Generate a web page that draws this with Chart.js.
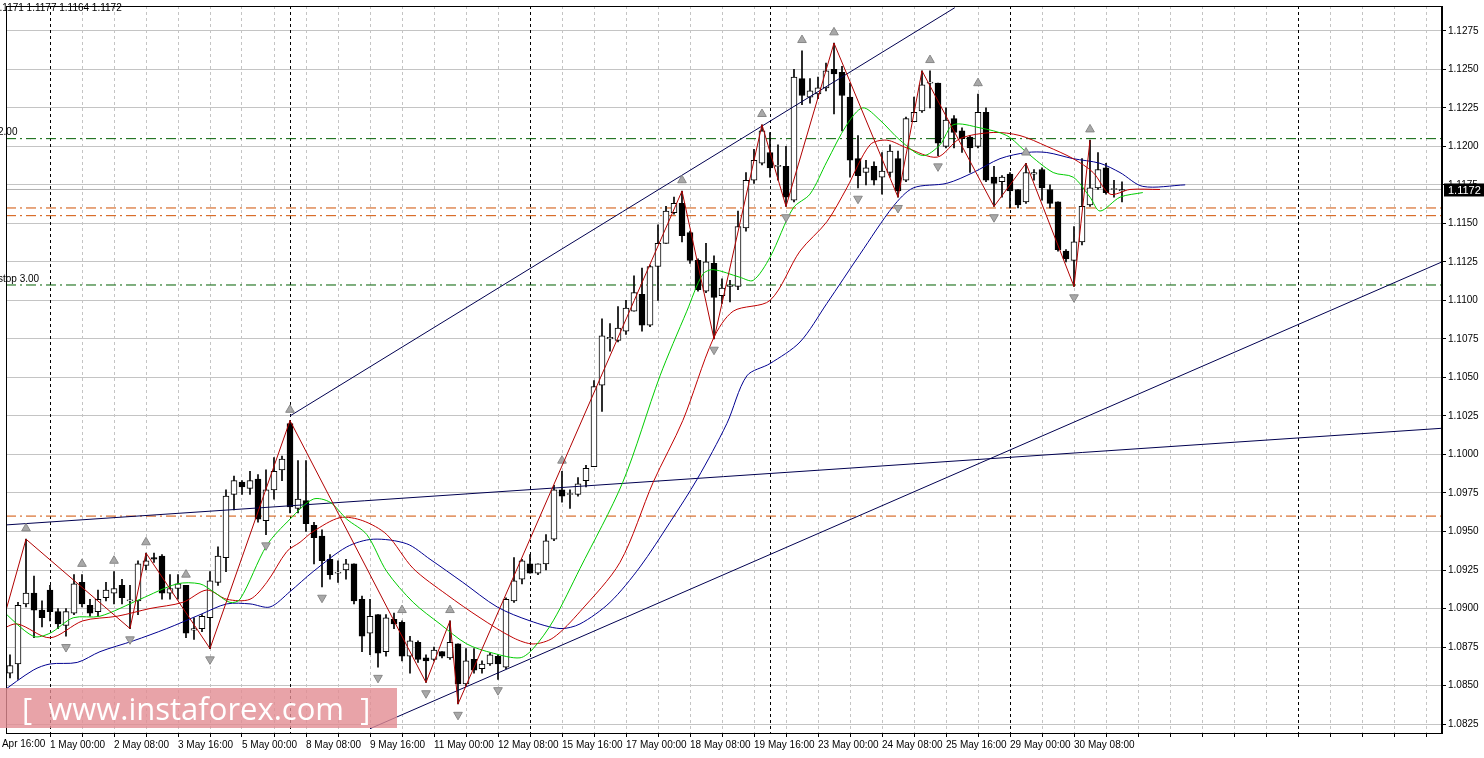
<!DOCTYPE html>
<html><head><meta charset="utf-8">
<script src="https://cdn.jsdelivr.net/npm/chart.js@4.4.1/dist/chart.umd.min.js"></script>
<style>
html,body{margin:0;padding:0;background:#fff;overflow:hidden}
#wrap{position:relative;width:1484px;height:758px}
#wm{position:absolute;left:0;top:688px;width:397px;height:40px;background:rgba(226,140,146,0.8);color:#fff;font:31px "Open Sans",sans-serif;line-height:40px;white-space:pre;padding-left:22px;box-sizing:border-box}
</style></head><body>
<div id="wrap"><canvas id="c" width="1484" height="758"></canvas><div id="wm">[  www.instaforex.com  ]</div></div>
<script>
const firstBar = -6;
const opens = [1.0871,1.0858,1.0864,1.0903,1.0910,1.0899,
1.0912,1.0898,1.0889,1.0897,1.0917,1.0902,1.0898,1.0907,1.0910,1.0915,
1.0905,1.0905,1.0928,1.0933,1.0934,1.0910,1.0913,1.0915,1.0886,1.0887,
1.0894,1.0917,1.0933,1.0974,1.0982,1.0978,1.0984,1.0957,1.0977,1.0990,
1.1020,1.0965,1.0970,1.0954,1.0947,1.0932,1.0923,1.0925,1.0929,1.0906,
1.0884,1.0896,1.0872,1.0893,1.0891,1.0869,1.0878,1.0868,1.0867,1.0872,
1.0868,1.0877,1.0851,1.0867,1.0861,1.0864,1.0869,1.0862,1.0905,1.0919,
1.0929,1.0923,1.0929,1.0945,1.0977,1.0974,1.0974,1.0983,1.0992,1.1045,
1.1075,1.1074,1.1080,1.1093,1.1104,1.1084,1.1122,1.1137,1.1157,1.1163,
1.1144,1.1126,1.1106,1.1124,1.1103,1.1109,1.1109,1.1147,1.1178,1.1189,
1.1196,1.1187,1.1187,1.1165,1.1244,1.1232,1.1234,1.1238,1.1250,1.1248,
1.1232,1.1192,1.1183,1.1187,1.1180,1.1183,1.1192,1.1178,1.1216,1.1223,
1.1241,1.1241,1.1200,1.1218,1.1210,1.1206,1.1200,1.1222,1.1180,1.1177,
1.1182,1.1172,1.1164,1.1182,1.1185,1.1172,1.1164,1.1132,1.1126,1.1138,
1.1162,1.1173,1.1186,1.1172,1.1171];
const highs = [1.0879,1.0870,1.0904,1.0945,1.0921,1.0905,
1.0915,1.0900,1.0900,1.0922,1.0922,1.0906,1.0912,1.0917,1.0924,1.0919,
1.0915,1.0931,1.0936,1.0936,1.0935,1.0922,1.0922,1.0915,1.0894,1.0896,
1.0924,1.0940,1.0977,1.0986,1.0983,1.0989,1.0987,1.0990,1.0998,1.0999,
1.1022,1.0996,1.0996,1.0956,1.0951,1.0935,1.0931,1.0932,1.0929,1.0908,
1.0906,1.0896,1.0896,1.0897,1.0892,1.0882,1.0879,1.0870,1.0875,1.0872,
1.0892,1.0877,1.0874,1.0874,1.0866,1.0871,1.0870,1.0907,1.0933,1.0932,
1.0935,1.0929,1.0948,1.0980,1.0989,1.0977,1.0985,1.0993,1.1048,1.1088,
1.1085,1.1096,1.1100,1.1116,1.1121,1.1123,1.1149,1.1161,1.1167,1.1171,
1.1145,1.1127,1.1137,1.1129,1.1114,1.1113,1.1158,1.1183,1.1198,1.1214,
1.1209,1.1201,1.1200,1.1250,1.1262,1.1244,1.1245,1.1254,1.1267,1.1252,
1.1241,1.1207,1.1191,1.1190,1.1196,1.1201,1.1197,1.1219,1.1232,1.1249,
1.1249,1.1241,1.1225,1.1220,1.1212,1.1207,1.1234,1.1225,1.1187,1.1181,
1.1183,1.1172,1.1189,1.1185,1.1186,1.1175,1.1164,1.1133,1.1148,1.1192,
1.1204,1.1196,1.1189,1.1178,1.1177];
const lows = [1.0850,1.0855,1.0854,1.0901,1.0881,1.0888,
1.0892,1.0887,1.0882,1.0896,1.0901,1.0895,1.0895,1.0905,1.0903,1.0903,
1.0887,1.0896,1.0925,1.0930,1.0906,1.0906,1.0906,1.0881,1.0880,1.0885,
1.0874,1.0915,1.0924,1.0964,1.0974,1.0974,1.0956,1.0948,1.0971,1.0983,
1.0962,1.0962,1.0950,1.0929,1.0914,1.0919,1.0917,1.0919,1.0903,1.0872,
1.0870,1.0862,1.0869,1.0887,1.0866,1.0858,1.0865,1.0852,1.0866,1.0868,
1.0867,1.0838,1.0850,1.0858,1.0858,1.0863,1.0854,1.0861,1.0904,1.0916,
1.0923,1.0922,1.0925,1.0944,1.0969,1.0965,1.0973,1.0979,1.0992,1.1028,
1.1067,1.1073,1.1078,1.1093,1.1080,1.1083,1.1100,1.1137,1.1156,1.1138,
1.1124,1.1106,1.1105,1.1075,1.1098,1.1099,1.1107,1.1145,1.1176,1.1188,
1.1180,1.1178,1.1161,1.1164,1.1227,1.1228,1.1231,1.1236,1.1221,1.1210,
1.1180,1.1173,1.1175,1.1175,1.1169,1.1180,1.1167,1.1177,1.1216,1.1222,
1.1225,1.1194,1.1199,1.1199,1.1196,1.1183,1.1199,1.1177,1.1161,1.1167,
1.1160,1.1160,1.1163,1.1178,1.1165,1.1160,1.1132,1.1125,1.1109,1.1136,
1.1161,1.1172,1.1169,1.1167,1.1164];
const closes = [1.0861,1.0863,1.0902,1.0910,1.0899,1.0894,
1.0898,1.0890,1.0898,1.0916,1.0903,1.0897,1.0906,1.0912,1.0913,1.0907,
1.0905,1.0929,1.0931,1.0932,1.0910,1.0913,1.0916,1.0884,1.0887,1.0895,
1.0918,1.0934,1.0973,1.0983,1.0979,1.0983,1.0958,1.0977,1.0989,1.0997,
1.0966,1.0971,1.0955,1.0946,1.0931,1.0922,1.0923,1.0929,1.0905,1.0882,
1.0895,1.0871,1.0894,1.0890,1.0869,1.0879,1.0867,1.0866,1.0873,1.0869,
1.0878,1.0851,1.0866,1.0860,1.0864,1.0870,1.0864,1.0906,1.0918,1.0931,
1.0923,1.0929,1.0944,1.0977,1.0973,1.0974,1.0981,1.0991,1.1044,1.1077,
1.1076,1.1082,1.1095,1.1105,1.1084,1.1122,1.1137,1.1158,1.1163,1.1142,
1.1126,1.1107,1.1125,1.1102,1.1108,1.1110,1.1148,1.1178,1.1191,1.1210,
1.1186,1.1187,1.1167,1.1245,1.1233,1.1236,1.1238,1.1249,1.1247,1.1233,
1.1191,1.1181,1.1186,1.1178,1.1184,1.1197,1.1171,1.1218,1.1222,1.1240,
1.1241,1.1202,1.1217,1.1209,1.1205,1.1199,1.1222,1.1178,1.1176,1.1180,
1.1171,1.1162,1.1183,1.1183,1.1173,1.1163,1.1133,1.1127,1.1138,1.1161,
1.1173,1.1185,1.1170,1.1172,1.1172];

const greenK = [-6.25,-2.1,0,2.9,6.25,11.25,15.9,18.75,20.4,22.5,23.75,27.1,30,32.9,35,37.1,39.6,42.1,45.4,48.75,52.1,55.4,58.75,60.4,62.9,66.25,71.6,76.25,79.6,81.6,82.9,86.25,87.9,90,92.9,95,97.1,99.6,101.6,103.75,106.25,109.1,111.25,112.9,116.25,119.6,122.1,125.4,127.9,130,131.25,133.75,136.6];
const greenP = [1.0900,1.0882,1.0884,1.0894,1.0895,1.0906,1.0916,1.0916,1.0911,1.0904,1.0906,1.0941,1.0958,1.0971,1.0969,1.0958,1.0948,1.0924,1.0904,1.0890,1.0877,1.0871,1.0868,1.0874,1.0892,1.0926,1.0982,1.1051,1.1093,1.1117,1.1120,1.1115,1.1113,1.1128,1.1160,1.1169,1.1190,1.1214,1.1225,1.1217,1.1204,1.1194,1.1201,1.1214,1.1212,1.1207,1.1196,1.1183,1.1180,1.1167,1.1158,1.1167,1.1170];
const redK = [-6.25,-4.1,0,4.1,8.4,12.5,16.6,19.6,22.1,25,27.1,29.6,31.25,32.9,36.25,39.1,42.1,45.4,49.6,53.75,57.9,60.4,62.9,66.25,71.25,75.4,79.1,82.9,85.4,90,93.75,97.1,99.6,102.5,104.6,107.1,110.9,113.75,117.9,121.25,124.6,127.9,130.4,132.5,135,138.75];
const redP = [1.0886,1.0890,1.0881,1.0892,1.0895,1.0900,1.0904,1.0912,1.0906,1.0906,1.0917,1.0937,1.0943,1.0950,1.0959,1.0957,1.0948,1.0926,1.0909,1.0894,1.0881,1.0877,1.0881,1.0898,1.0930,1.0982,1.1022,1.1075,1.1093,1.1100,1.1132,1.1151,1.1173,1.1201,1.1204,1.1199,1.1193,1.1205,1.1209,1.1207,1.1200,1.1192,1.1183,1.1169,1.1172,1.1172];
const blueK = [-6.25,-2.1,0,3.4,6.25,10.4,14.6,18.75,22.1,25,27.5,30,32.9,37.1,40.4,44.6,47.5,51.6,55.9,60,63.75,66.25,70,73.75,77.5,80.9,84.6,87.1,90,93.75,97.1,101.25,105.4,107.9,112.1,115.4,118.75,122.1,124.6,127.9,131.25,133.75,136.6,141.9];
const blueP = [1.0845,1.0860,1.0864,1.0865,1.0872,1.0879,1.0887,1.0896,1.0903,1.0903,1.0901,1.0911,1.0924,1.0940,1.0945,1.0942,1.0932,1.0917,1.0901,1.0892,1.0887,1.0890,1.0904,1.0927,1.0956,1.0984,1.1020,1.1051,1.1059,1.1073,1.1098,1.1130,1.1161,1.1173,1.1176,1.1183,1.1192,1.1196,1.1196,1.1192,1.1189,1.1183,1.1174,1.1175];
const zigK = [-6.25,-3,10,12,20,30,47,50,51,79,83,89,92,98,106,109,118,122,128,130];
const zigP = [1.0885,1.0945,1.0887,1.0936,1.0874,1.1022,1.0852,1.0892,1.0838,1.1171,1.1075,1.1214,1.1161,1.1267,1.1167,1.1249,1.1161,1.1189,1.1109,1.1204];
const fractalUp = [-3,4,8,12,17,30,44,50,64,79,89,94,98,110,116,122,130];
const fractalDown = [-6,2,10,20,27,34,41,47,51,56,83,92,101,106,111,118,128];
const trendLines = [[30,1.1025,113.1,1.1290],[40,1.0822,174,1.1125],[-6.25,1.0954,174,1.1017]];
const greenLevels = [1.1205,1.1110];
const greenLevelLabels = ["2.00","stop 3.00"];
const orangeLevels = [1.1160,1.1155,1.0960];
const lastPrice = 1.1172;
const header = "1.1171 1.1177 1.1164 1.1172";
const tickLabels = ["30 Apr 16:00","1 May 00:00","2 May 08:00","3 May 16:00","5 May 00:00","8 May 08:00","9 May 16:00","11 May 00:00","12 May 08:00","15 May 16:00","17 May 00:00","18 May 08:00","19 May 16:00","23 May 00:00","24 May 08:00","25 May 16:00","29 May 00:00","30 May 08:00"];
const separators = [0,30,60,90,120,156];
const xMin=-5.5, xMax=174, yMin=1.08192, yMax=1.12911;

const bodies=[], wicks=[], bodyColors=[];
opens.forEach((o,i)=>{const k=firstBar+i;
  wicks.push({x:k,y:[lows[i],highs[i]]});
  bodies.push({x:k,y:[o,closes[i]]});
  bodyColors.push(closes[i]>=o?'#ffffff':'#000000');});
const line=(K,P)=>K.map((k,i)=>({x:k,y:P[i]}));
const off=0.0007;
const datasets=[
 {type:'bar',data:bodies,backgroundColor:bodyColors,borderColor:'#000',borderWidth:1,borderSkipped:false,barThickness:6,minBarLength:1,grouped:false,order:3},
 {type:'bar',data:wicks,backgroundColor:'#000',barThickness:1,grouped:false,order:4},
 {type:'line',data:line(greenK,greenP),borderColor:'#00cc00',borderWidth:1,pointRadius:0,tension:0.3,order:1},
 {type:'line',data:line(redK,redP),borderColor:'#c00000',borderWidth:1,pointRadius:0,tension:0.3,order:1},
 {type:'line',data:line(blueK,blueP),borderColor:'#000090',borderWidth:1,pointRadius:0,tension:0.3,order:1},
 {type:'line',data:line(zigK,zigP),borderColor:'#b00000',borderWidth:1,pointRadius:0,order:0},
 {type:'scatter',data:fractalUp.map(k=>({x:k,y:highs[k-firstBar]+off})),pointStyle:'triangle',radius:5,backgroundColor:'#a8a8a8',borderColor:'#888',borderWidth:1,order:0},
 {type:'scatter',data:fractalDown.map(k=>({x:k,y:lows[k-firstBar]-off})),pointStyle:'triangle',rotation:180,radius:5,backgroundColor:'#a8a8a8',borderColor:'#888',borderWidth:1,order:0},
];
trendLines.forEach(t=>datasets.push({type:'line',data:[{x:t[0],y:t[1]},{x:t[2],y:t[3]}],borderColor:'#000050',borderWidth:1,pointRadius:0,order:2}));
greenLevels.forEach(v=>datasets.push({type:'line',data:[{x:xMin,y:v},{x:xMax,y:v}],borderColor:'#006000',borderWidth:1,borderDash:[10,4,2,4],pointRadius:0,order:5}));
orangeLevels.forEach(v=>datasets.push({type:'line',data:[{x:xMin,y:v},{x:xMax,y:v}],borderColor:'#d05000',borderWidth:1,borderDash:[10,4,2,4],pointRadius:0,order:5}));
datasets.push({type:'line',data:[{x:xMin,y:lastPrice},{x:xMax,y:lastPrice}],borderColor:'#b0b0b0',borderWidth:1,pointRadius:0,order:6});

const deco={id:'deco',
 beforeDatasetsDraw(c){const {ctx,chartArea:a,scales:{x}}=c;ctx.save();ctx.strokeStyle='#000';ctx.setLineDash([3,3]);ctx.lineWidth=1;
  separators.forEach(k=>{const px=Math.round(x.getPixelForValue(k))+0.5;ctx.beginPath();ctx.moveTo(px,a.top);ctx.lineTo(px,a.bottom);ctx.stroke();});ctx.restore();},
 afterDraw(c){const {ctx,chartArea:a,scales:{x,y}}=c;ctx.save();
  ctx.strokeStyle='#000';ctx.lineWidth=1;ctx.strokeRect(a.left+0.5,a.top+0.5,a.right-a.left-1,a.bottom-a.top);
  ctx.font='10px "Liberation Sans"';ctx.fillStyle='#000';ctx.textBaseline='middle';
  ctx.fillText(header,-6,8);
  ctx.fillText(tickLabels[0],x.getPixelForValue(-8)+2,a.bottom+11);
  greenLevels.forEach((v,i)=>ctx.fillText(greenLevelLabels[i],-2,y.getPixelForValue(v)-6));
  const py=y.getPixelForValue(lastPrice);ctx.fillStyle='#000';ctx.fillRect(a.right+2,py-6,40,13);
  ctx.fillStyle='#fff';ctx.font='11px "Liberation Sans"';ctx.fillText(lastPrice.toFixed(4),a.right+6,py+1);
  ctx.restore();}};

new Chart(document.getElementById('c'),{data:{datasets},plugins:[deco],
 options:{responsive:false,animation:false,devicePixelRatio:1,layout:{padding:0},
  plugins:{legend:{display:false},tooltip:{enabled:false}},
  scales:{
   x:{type:'linear',min:xMin,max:xMax,offset:false,
     afterBuildTicks(s){const t=[];for(let k=0;k<=172;k+=4)t.push({value:k});s.ticks=t;},
     afterFit(s){s.height=25;s.paddingLeft=0;s.paddingRight=0;},
     grid:{offset:false,color:'#c4c4c4',tickLength:4,tickColor:'#000'},border:{display:true,color:'#000',dash:[3,3]},
     ticks:{align:'start',autoSkip:false,maxRotation:0,padding:2,color:'#000',font:{family:'Liberation Sans',size:10},
       callback(v){if(v%8!==0)return '';const i=v/8+1;return i<tickLabels.length?tickLabels[i]:'';}}},
   y:{position:'right',min:yMin,max:yMax,
     afterBuildTicks(s){const t=[];for(let i=0;i<=18;i++)t.push({value:1.0825+i*0.0025});s.ticks=t;},
     afterFit(s){s.width=42;s.paddingTop=0;s.paddingBottom=0;},
     grid:{color:'#c4c4c4',tickLength:4,tickColor:'#000'},border:{display:true,color:'#000'},
     ticks:{padding:2,color:'#000',font:{family:'Liberation Sans',size:10},callback:v=>v.toFixed(4)}}
  }}});
</script></body></html>
